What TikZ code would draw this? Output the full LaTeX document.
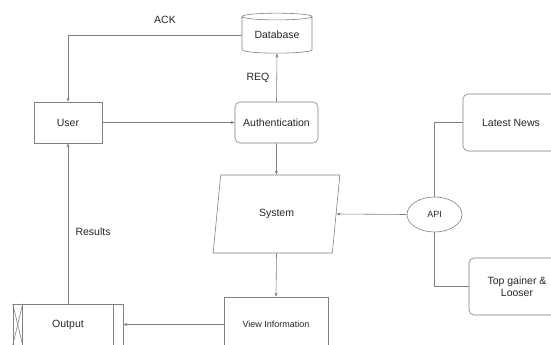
\documentclass[tikz,border=0pt]{standalone}
\usepackage{fontspec}
\setmainfont{Liberation Sans}
\usetikzlibrary{shapes.geometric,arrows.meta}

\begin{document}
\begin{tikzpicture}[x=1pt, y=-1pt,
  line/.style={draw=black!50, line width=0.6pt},
  arr/.style={line, -{Stealth[length=4pt, width=3pt]}},
  box/.style={draw=black!50, line width=0.6pt, rectangle, inner sep=0pt, align=center, text=black!85, font=\fontsize{10.5}{12.5}\selectfont},
  rbox/.style={box, rounded corners=5pt},
  small/.style={font=\fontsize{9}{11}\selectfont},
  lbl/.style={text=black!85, font=\fontsize{10.5}{12.5}\selectfont}]
\useasboundingbox (0,0) rectangle (551,345);
\clip (0,0) rectangle (551,345);
\node[box, cylinder, shape border rotate=90, aspect=0.15, minimum width=70pt, minimum height=40pt] (db) at (277,35) {Database};
\node[box, minimum width=68pt, minimum height=41pt] (user) at (68,122.5) {User};
\node[rbox, minimum width=83pt, minimum height=41pt] (auth) at (276.5,122.5) {Authentication};
\node[box, trapezium, trapezium left angle=76, trapezium right angle=104, trapezium stretches=true, minimum width=127pt, minimum height=78pt] (sys) at (276.5,214) {System};
\node[box, ellipse, small, minimum width=55pt, minimum height=35pt] (api) at (434.5,214.5) {API};
\node[rbox, minimum width=96pt, minimum height=57pt] (news) at (511,122.5) {Latest News};
\node[rbox, minimum width=96pt, minimum height=57pt] (gainer) at (517,286.5) {Top gainer \&\\Looser};
\node[box, small, minimum width=104pt, minimum height=55pt] (view) at (276,324.5) {View Information};
\node[box, minimum width=110pt, minimum height=41pt] (out) at (68,324.5) {Output};
\draw[line] ([xshift=10pt]out.north west) -- ([xshift=10pt]out.south west);
\draw[line] ([xshift=-10pt]out.north east) -- ([xshift=-10pt]out.south east);
\draw[line] (out.north west) -- ([xshift=10pt]out.south west);
\draw[line] ([xshift=10pt]out.north west) -- (out.south west);
% labels on the links
\node[lbl] (ack) at (165,20) {ACK};
\node[lbl] (req) at (258,78) {REQ};
\node[lbl, anchor=west] (res) at (72,232) {Results};
% links
\draw[arr] (db.west) -| (user.north);
\draw[arr] (user.east) -- (auth.west);
\draw[arr] (auth.north) -- (db.south);
\draw[arr] (auth.south) -- (sys.north);
\draw[arr] (api.west) -- (sys.east);
\draw[arr] (sys.south) -- (view.north);
\draw[arr] (view.west) -- (out.east);
\draw[arr] (out.north) -- (user.south);
\draw[line] (api.north) |- (news.west);
\draw[line] (api.south) |- (gainer.west);
\end{tikzpicture}
\end{document}
